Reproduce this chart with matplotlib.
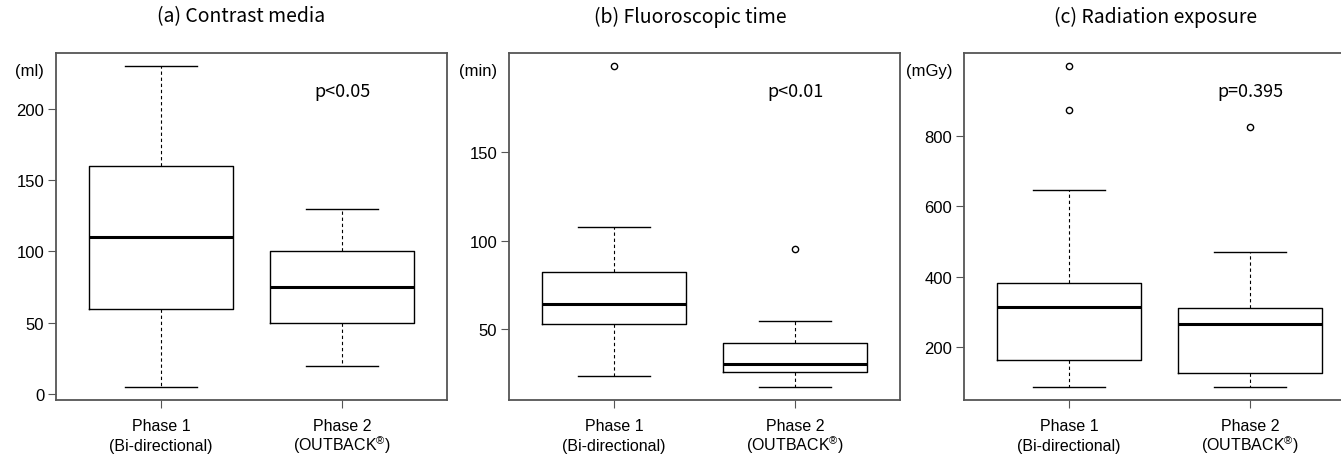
import matplotlib
matplotlib.use('Agg')
import matplotlib.pyplot as plt

# group labels (two lines each)
groups = ['Phase 1', 'Phase 2']
subgroups = ['(Bi-directional)', '(OUTBACK$^{\u00ae}$)']

# (a) contrast media (ml): whislo, q1, med, q3, whishi
contrast_p1 = [5, 60, 110, 160, 230]
contrast_p2 = [20, 50, 75, 100, 130]
contrast_fl1 = []
contrast_fl2 = []

# (b) fluoroscopic time (min)
fluoro_p1 = [23.5, 52.8, 64.4, 82.4, 107.7]
fluoro_p2 = [17.5, 26.3, 30.4, 42.6, 54.6]
fluoro_fl1 = [198.3]
fluoro_fl2 = [95.5]

# (c) radiation exposure (mGy)
rad_p1 = [85, 161, 312, 381, 647]
rad_p2 = [85, 126, 266, 310, 471]
rad_fl1 = [1000, 874]
rad_fl2 = [827]

titles = ['(a) Contrast media', '(b) Fluoroscopic time', '(c) Radiation exposure']
units = ['(ml)', '(min)', '(mGy)']
pvals = ['p<0.05', 'p<0.01', 'p=0.395']
yticks = [[0, 50, 100, 150, 200], [50, 100, 150], [200, 400, 600, 800]]

panels = [
    (contrast_p1, contrast_p2, contrast_fl1, contrast_fl2),
    (fluoro_p1, fluoro_p2, fluoro_fl1, fluoro_fl2),
    (rad_p1, rad_p2, rad_fl1, rad_fl2),
]

plt.rcParams['font.family'] = ['Liberation Sans', 'DejaVu Sans']
plt.rcParams['mathtext.fontset'] = 'custom'
plt.rcParams['mathtext.rm'] = 'Liberation Sans'

W, H = 1341, 456
fig = plt.figure(figsize=(W / 100, H / 100), dpi=100)

# axes positions in pixels
lefts = [56, 509, 964]
width = 391
top, bottom = 54, 401
title_x = [241, 690, 1156]
jp = ['Noto Sans CJK JP', 'DejaVu Sans']

frame_col = '#555555'

for i, (p1, p2, fl1, fl2) in enumerate(panels):
    ax = fig.add_axes([lefts[i] / W, 1 - bottom / H, width / W, (bottom - top) / H])
    stats = []
    for s, fl in ((p1, fl1), (p2, fl2)):
        stats.append(dict(whislo=s[0], q1=s[1], med=s[2], q3=s[3], whishi=s[4], fliers=fl))
    ax.bxp(stats, positions=[1, 2], widths=0.8, capwidths=0.4, showfliers=True,
           boxprops=dict(color='black', linewidth=1.0),
           medianprops=dict(color='black', linewidth=2.2),
           whiskerprops=dict(color='black', linewidth=0.8, linestyle=(0, (3, 2.5))),
           capprops=dict(color='black', linewidth=1.0),
           flierprops=dict(marker='o', markersize=4.5, markerfacecolor='none',
                           markeredgecolor='black', markeredgewidth=1.0))
    vals = p1 + p2 + fl1 + fl2
    lo, hi = min(vals), max(vals)
    pad = 0.04 * (hi - lo)
    ax.set_ylim(lo - pad, hi + pad)
    ax.set_xlim(0.42, 2.58)
    ax.set_yticks(yticks[i])
    ax.set_xticks([1, 2])
    ax.set_xticklabels(groups, fontsize=11.5)
    ax.tick_params(axis='y', labelsize=12, length=5.5, width=0.8, color=frame_col, pad=3)
    ax.tick_params(axis='x', length=5.5, width=0.8, color=frame_col, pad=7.8)
    for sp in ax.spines.values():
        sp.set_color(frame_col)
        sp.set_linewidth(1.3)
    for x, sub in zip([1, 2], subgroups):
        ax.annotate(sub, xy=(x, 0), xycoords=('data', 'axes fraction'), xytext=(0, -35.8),
                    textcoords='offset points', ha='center', va='baseline', fontsize=11.5)
    ax.annotate(units[i], xy=(0, 1), xycoords='axes fraction', xytext=(-8.5, -12.5),
                textcoords='offset points', ha='right', va='center', fontsize=12)
    ax.annotate(pvals[i], xy=(2, 1), xycoords=('data', 'axes fraction'), xytext=(0, -27.5),
                textcoords='offset points', ha='center', va='center', fontsize=13, family=jp)
    fig.text(title_x[i] / W, 1 - 17 / H, titles[i], ha='center', va='center', fontsize=14,
             family=jp)

fig.savefig('out.png', dpi=100)
